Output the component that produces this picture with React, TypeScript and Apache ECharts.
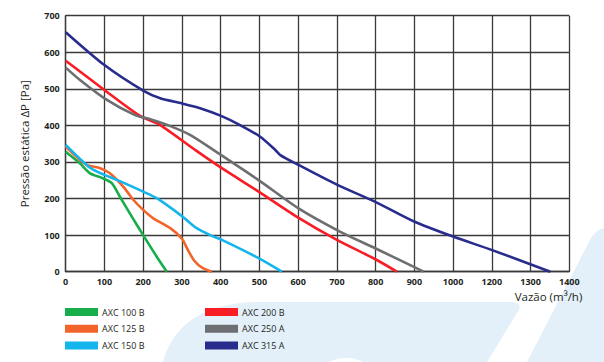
import React, { useEffect, useRef } from "react";
import * as echarts from "echarts";

const FONT = "'Open Sans', 'Noto Sans', sans-serif";
const TEXT = "#231f20";

// x positions are in plotted axis units (one grid cell = 100)
const TICK_LABELS = ["0", "100", "200", "300", "400", "500", "600", "700", "800", "900", "1000", "1200", "1300", "1400"];
const Y_TICKS_MAX = 700;

const NAMES = ["AXC 100 B", "AXC 125 B", "AXC 150 B", "AXC 200 B", "AXC 250 A", "AXC 315 A"];
const COLORS = ["#17ad4b", "#f3642b", "#14b4ec", "#f81d24", "#6d6e71", "#282c8c"];

const AXC100B = [[0, 328], [37, 296], [63, 269], [97, 255], [119, 242], [140, 205], [171, 150], [200, 100], [235, 41], [261, 0]];
const AXC125B = [[0, 342], [28, 314], [54, 292], [89, 283], [114, 269], [149, 232], [175, 196], [200, 169], [226, 146], [270, 119], [300, 90], [316, 58], [332, 30], [352, 11], [377, 0]];
const AXC150B = [[0, 347], [63, 284], [97, 266], [132, 251], [200, 219], [235, 201], [300, 152], [338, 119], [377, 98], [403, 87], [498, 37], [558, 0]];
const AXC200B = [[0, 577], [100, 497], [192, 426], [244, 401], [334, 333], [403, 283], [498, 219], [597, 150], [700, 87], [803, 32], [855, 0]];
const AXC250A = [[0, 558], [37, 524], [100, 474], [179, 428], [218, 417], [270, 398], [321, 374], [381, 333], [497, 251], [601, 173], [709, 109], [803, 62], [924, 0]];
const AXC315A = [[0, 655], [100, 565], [200, 495], [244, 474], [300, 460], [347, 447], [401, 426], [450, 401], [502, 369], [541, 333], [554, 319], [601, 292], [700, 238], [803, 189], [898, 138], [1000, 96], [1101, 59], [1251, 0]];
const SERIES_DATA = [AXC100B, AXC125B, AXC150B, AXC200B, AXC250A, AXC315A];

echarts.graphic.registerShape(
  "bgBlob",
  echarts.graphic.extendPath("M163 362 Q178 306 252 302 L510 302 Q525 302 517 313 L487 362 Z", {})
);
echarts.graphic.registerShape(
  "bgBand",
  echarts.graphic.extendPath("M527 362 L590 240 Q595 230 604 228 L604 362 Z", {})
);

export default function App() {
  const ref = useRef<HTMLDivElement>(null);
  useEffect(() => {
    if (!ref.current) return;
    const chart = echarts.init(ref.current, null, { renderer: "svg" });
    const lineCol = "#3a3a3a";
    const legendText = { fontFamily: FONT, fontSize: 9, color: TEXT, lineHeight: 12, padding: [0, 0, 0, -1] };
    chart.setOption({
      animation: false,
      backgroundColor: "#ffffff",
      graphic: [
        { type: "bgBlob", x: 0, y: 0, z: -10, style: { fill: "#e3f0f9" } },
        { type: "bgBand", x: 0, y: 0, z: -10, style: { fill: "#e3f0f9" } },
        { type: "circle", z: -9, shape: { cx: 346, cy: 396, r: 38 }, style: { fill: "#ffffff" } },
      ],
      grid: { left: 65.7, right: 34.7, top: 15.7, bottom: 90.3, containLabel: false },
      legend: [
        {
          data: NAMES.slice(0, 3),
          orient: "vertical",
          left: 65,
          top: 306,
          padding: 0,
          itemWidth: 33,
          itemHeight: 8,
          itemGap: 4.8,
          icon: "rect",
          selectedMode: false,
          itemStyle: { borderWidth: 0 },
          textStyle: legendText,
        },
        {
          data: NAMES.slice(3),
          orient: "vertical",
          left: 205,
          top: 306,
          padding: 0,
          itemWidth: 33,
          itemHeight: 8,
          itemGap: 4.8,
          icon: "rect",
          selectedMode: false,
          itemStyle: { borderWidth: 0 },
          textStyle: legendText,
        },
      ],
      xAxis: {
        type: "value",
        min: 0,
        max: (TICK_LABELS.length - 1) * 100,
        interval: 100,
        name: "Vazão (m³/h)",
        nameLocation: "end",
        nameGap: 13,
        nameTextStyle: { fontFamily: FONT, fontSize: 11.5, color: TEXT, align: "right", verticalAlign: "top", padding: [19, 0, 0, 0] },
        axisLine: { show: true, lineStyle: { color: lineCol, width: 1.3 } },
        axisTick: { show: false },
        axisLabel: {
          margin: 5,
          fontFamily: FONT,
          fontSize: 9,
          fontWeight: "bold",
          color: TEXT,
          formatter: (v: number) => TICK_LABELS[Math.round(v / 100)] ?? "",
        },
        splitLine: { show: true, lineStyle: { color: lineCol, width: 1.3 } },
      },
      yAxis: {
        type: "value",
        min: 0,
        max: Y_TICKS_MAX,
        interval: 100,
        name: "Pressão estática ΔP [Pa]",
        nameLocation: "middle",
        nameGap: 35,
        nameTextStyle: { fontFamily: FONT, fontSize: 11.5, color: TEXT },
        axisLine: { show: true, lineStyle: { color: lineCol, width: 1.3 } },
        axisTick: { show: false },
        axisLabel: { margin: 6, fontFamily: FONT, fontSize: 9, fontWeight: "bold", color: TEXT },
        splitLine: { show: true, lineStyle: { color: lineCol, width: 1.3 } },
      },
      series: NAMES.map((name, i) => ({
        name,
        type: "line",
        data: SERIES_DATA[i],
        smooth: 0.25,
        showSymbol: false,
        symbol: "none",
        color: COLORS[i],
        itemStyle: { color: COLORS[i] },
        lineStyle: { color: COLORS[i], width: 2.6 },
        z: 3,
      })),
    });
    return () => chart.dispose();
  }, []);
  return <div ref={ref} style={{ position: "absolute", left: 0, top: 0, width: 604, height: 362 }} />;
}
